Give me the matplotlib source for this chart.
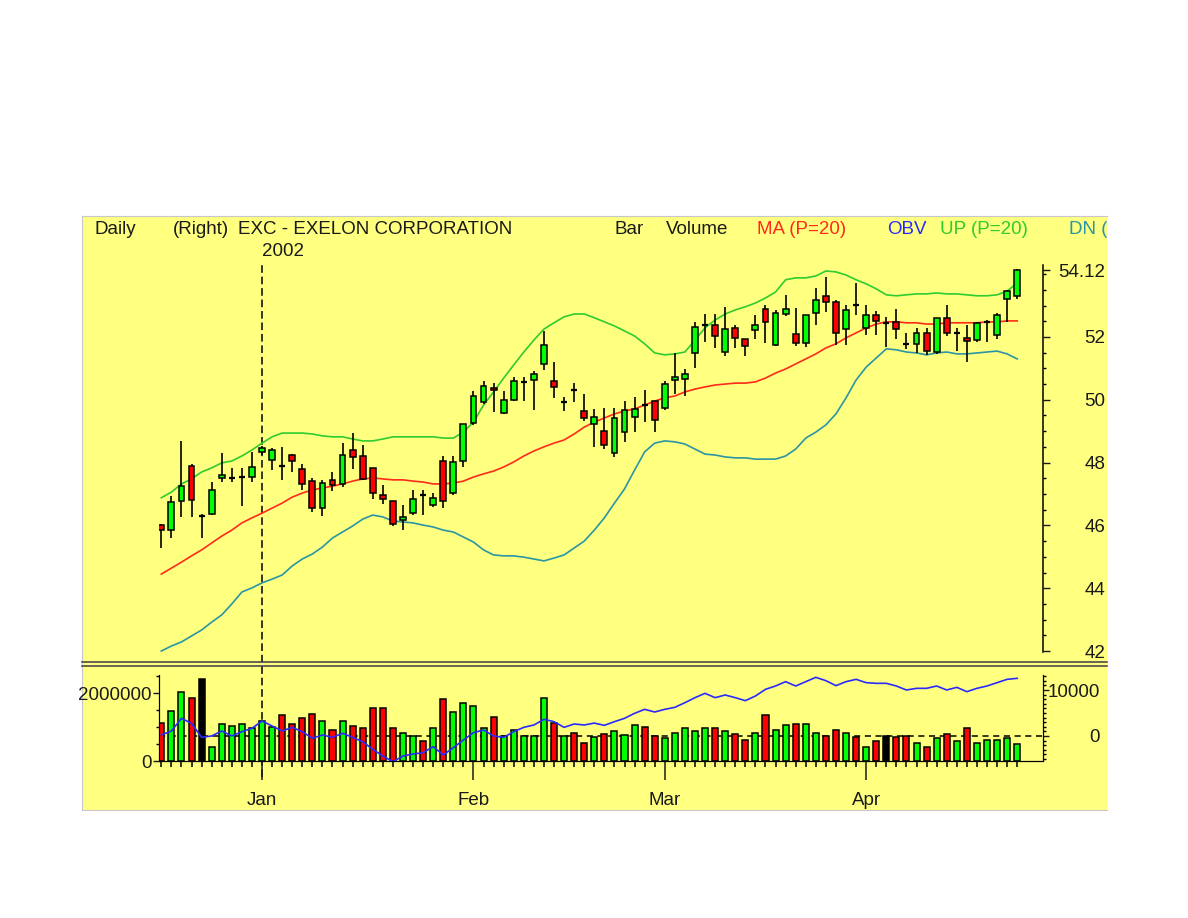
import matplotlib
matplotlib.use("Agg")
import matplotlib.pyplot as plt
from matplotlib.lines import Line2D
from matplotlib.ticker import FixedLocator, MultipleLocator
import numpy as np

plt.rcParams['font.family'] = ['Liberation Sans', 'DejaVu Sans']

# ---- data ----
# daily bars, 17 Dec 2001 .. 22 Apr 2002
open_ = [46.01, 45.84, 46.78, 47.88, 46.31, 46.37, 47.50, 47.50, 47.54, 47.54,
         48.35, 48.09, 47.88, 48.24, 47.80, 47.41, 46.56, 47.45, 47.32, 48.40,
         48.21, 47.83, 46.98, 46.79, 46.17, 46.41, 46.98, 46.64, 48.06, 47.02,
         48.06, 49.27, 49.93, 50.39, 49.59, 49.99, 50.58, 50.63, 51.14, 50.59,
         49.93, 50.31, 49.65, 49.23, 48.99, 48.29, 48.97, 49.44, 49.82, 49.97,
         49.73, 50.63, 50.67, 51.48, 52.38, 52.38, 51.52, 52.27, 51.95, 52.22,
         52.89, 51.75, 52.73, 52.10, 51.82, 52.75, 53.31, 53.11, 52.25, 53.01,
         52.29, 52.71, 52.45, 52.46, 51.79, 51.79, 52.11, 51.52, 52.61, 52.14,
         51.98, 51.89, 52.49, 52.05, 53.22, 53.31]
high = [46.03, 46.95, 48.69, 47.95, 46.35, 47.37, 48.31, 47.84, 47.84, 48.35,
        48.53, 48.47, 48.50, 48.26, 47.95, 47.50, 47.43, 47.71, 48.63, 48.95,
        48.57, 47.83, 47.28, 46.79, 46.66, 47.13, 47.13, 47.04, 48.21, 48.21,
        49.23, 50.29, 50.61, 50.52, 50.27, 50.74, 50.74, 50.93, 52.18, 51.20,
        50.10, 50.52, 50.18, 49.72, 49.75, 49.75, 49.95, 50.08, 50.31, 49.97,
        50.59, 51.48, 50.97, 52.48, 52.73, 52.73, 52.95, 52.38, 51.95, 52.70,
        53.02, 52.86, 53.34, 52.91, 52.70, 53.55, 53.90, 53.17, 53.01, 53.73,
        53.03, 52.82, 52.62, 52.90, 52.11, 52.27, 52.27, 52.61, 53.01, 52.27,
        52.37, 52.48, 52.53, 52.77, 53.49, 54.15]
low = [45.27, 45.59, 46.27, 46.27, 45.59, 46.33, 47.39, 47.39, 46.63, 47.37,
       48.24, 47.75, 47.43, 47.71, 47.12, 46.44, 46.31, 47.10, 47.21, 47.81,
       47.43, 46.85, 46.68, 45.98, 45.85, 46.32, 46.32, 46.60, 46.55, 46.96,
       47.85, 49.21, 49.87, 49.61, 49.55, 49.95, 49.95, 49.68, 50.94, 50.06,
       49.63, 49.93, 49.32, 48.51, 48.44, 48.19, 48.66, 48.97, 49.29, 48.97,
       49.68, 50.18, 50.12, 51.01, 51.85, 51.64, 51.38, 51.64, 51.38, 51.95,
       51.80, 51.71, 52.66, 51.71, 51.67, 52.38, 52.78, 51.74, 51.74, 52.69,
       52.07, 52.07, 51.69, 51.92, 51.61, 51.50, 51.44, 51.47, 52.03, 51.54,
       51.20, 51.84, 51.84, 51.95, 52.46, 53.22]
close = [45.86, 46.75, 47.26, 46.82, 46.31, 47.12, 47.61, 47.50, 47.54, 47.86,
         48.47, 48.39, 47.88, 48.05, 47.31, 46.56, 47.35, 47.29, 48.25, 48.19,
         47.49, 47.02, 46.83, 46.04, 46.28, 46.83, 46.98, 46.87, 46.79, 48.02,
         49.23, 50.12, 50.44, 50.31, 49.99, 50.59, 50.58, 50.82, 51.73, 50.40,
         49.93, 50.31, 49.42, 49.46, 48.57, 49.42, 49.68, 49.70, 49.82, 49.34,
         50.50, 50.74, 50.82, 52.33, 52.38, 52.04, 52.25, 51.98, 51.71, 52.38,
         52.47, 52.75, 52.89, 51.82, 52.70, 53.16, 53.11, 52.14, 52.85, 53.01,
         52.71, 52.52, 52.45, 52.24, 51.79, 52.11, 51.54, 52.61, 52.11, 52.14,
         51.88, 52.43, 52.49, 52.71, 53.46, 54.12]

ma20 = [44.45, 44.64, 44.83, 45.03, 45.22, 45.44, 45.66, 45.85, 46.08, 46.24,
        46.39, 46.55, 46.71, 46.90, 47.03, 47.13, 47.19, 47.25, 47.32, 47.41,
        47.48, 47.51, 47.48, 47.45, 47.45, 47.41, 47.38, 47.32, 47.32, 47.35,
        47.41, 47.54, 47.64, 47.73, 47.86, 48.02, 48.21, 48.37, 48.50, 48.62,
        48.72, 48.91, 49.13, 49.29, 49.42, 49.55, 49.64, 49.71, 49.83, 49.96,
        50.06, 50.12, 50.25, 50.34, 50.41, 50.47, 50.50, 50.53, 50.53, 50.57,
        50.69, 50.85, 50.98, 51.14, 51.30, 51.46, 51.65, 51.78, 51.97, 52.13,
        52.29, 52.41, 52.48, 52.48, 52.45, 52.45, 52.41, 52.41, 52.45, 52.45,
        52.45, 52.45, 52.48, 52.48, 52.51, 52.51]
band_up = [46.88, 47.06, 47.32, 47.48, 47.70, 47.83, 47.99, 48.05, 48.21, 48.40,
           48.62, 48.82, 48.94, 48.94, 48.94, 48.91, 48.85, 48.82, 48.82, 48.75,
           48.69, 48.69, 48.75, 48.82, 48.82, 48.82, 48.82, 48.82, 48.78, 48.78,
           48.97, 49.29, 49.83, 50.25, 50.69, 51.11, 51.52, 51.90, 52.25, 52.45,
           52.64, 52.73, 52.73, 52.61, 52.48, 52.35, 52.19, 52.03, 51.78, 51.49,
           51.43, 51.46, 51.52, 51.90, 52.29, 52.54, 52.73, 52.86, 52.96, 53.08,
           53.24, 53.43, 53.82, 53.88, 53.88, 53.94, 54.10, 54.07, 53.97, 53.82,
           53.69, 53.53, 53.34, 53.31, 53.34, 53.37, 53.37, 53.40, 53.37, 53.37,
           53.34, 53.31, 53.31, 53.34, 53.46, 53.72]
band_dn = [42.00, 42.16, 42.29, 42.48, 42.67, 42.92, 43.15, 43.50, 43.88, 44.01,
           44.17, 44.29, 44.42, 44.71, 44.93, 45.09, 45.31, 45.60, 45.79, 45.98,
           46.20, 46.33, 46.27, 46.14, 46.11, 46.08, 46.01, 45.95, 45.85, 45.79,
           45.63, 45.47, 45.22, 45.06, 45.03, 45.03, 44.99, 44.93, 44.87, 44.96,
           45.06, 45.28, 45.50, 45.85, 46.24, 46.71, 47.16, 47.76, 48.34, 48.62,
           48.69, 48.66, 48.59, 48.43, 48.27, 48.24, 48.18, 48.15, 48.15, 48.11,
           48.11, 48.11, 48.21, 48.43, 48.78, 48.97, 49.20, 49.55, 50.06, 50.63,
           51.04, 51.33, 51.62, 51.59, 51.52, 51.49, 51.43, 51.49, 51.52, 51.46,
           51.46, 51.49, 51.52, 51.55, 51.46, 51.30]

volume = [1.13, 1.48, 2.04, 1.87, 2.43, 0.42, 1.08, 1.03, 1.08, 0.96,
          1.17, 1.00, 1.35, 1.08, 1.26, 1.40, 1.17, 0.91, 1.17, 1.03,
          0.96, 1.57, 1.57, 0.96, 0.82, 0.73, 0.60, 0.96, 1.82, 1.44,
          1.70, 1.61, 0.96, 1.30, 0.73, 0.91, 0.73, 0.73, 1.87, 1.13,
          0.73, 0.82, 0.53, 0.71, 0.80, 0.89, 0.76, 1.05, 1.01, 0.75,
          0.67, 0.84, 0.97, 0.89, 0.97, 0.97, 0.89, 0.80, 0.62, 0.84,
          1.37, 0.93, 1.05, 1.10, 1.10, 0.84, 0.75, 0.93, 0.84, 0.71,
          0.40, 0.58, 0.75, 0.71, 0.75, 0.53, 0.40, 0.67, 0.80, 0.58,
          0.97, 0.53, 0.62, 0.62, 0.67, 0.49]  # millions
vol_side = "rggrkggggg" "ggrrrrgrgr" "rrrrggrgrg" "gggrgggggr" \
           "grrgrgggrr" "gggggrgrrg" "rggrggrrgr" "grkrrgrgrg" "rggggg"
obv = [217, 1087, 3840, 2753, -290, 0, 1087, 0, 942, 1667,
       3261, 2174, 1087, 1884, 942, -507, 217, -290, 580, -290,
       -1232, -2898, -4348, -5580, -4348, -3913, -3623, -2319, -4130, -2536,
       -870, 725, 1304, 0, -290, 942, 1884, 2391, 3623, 3116,
       1884, 2609, 2400, 2800, 2319, 3116, 3841, 4928, 5797, 5217,
       5797, 6232, 7246, 8333, 9275, 8333, 8913, 8333, 7681, 8696,
       10145, 10870, 11812, 10870, 11812, 12754, 12029, 10942, 11812, 12319,
       11594, 11449, 11449, 10870, 10000, 10362, 10362, 10870, 10000, 10580,
       9638, 10362, 10870, 11594, 12319, 12536]

month_names = ['Jan', 'Feb', 'Mar', 'Apr']
month_start = [10, 31, 50, 70]   # bar index of first trading day
price_ticks = [42, 44, 46, 48, 50, 52, 54.12]

YELLOW = '#ffff80'
C_UP = '#00ff00'
C_DN = '#ff0000'
C_MA = '#ff2a1a'
C_UPB = '#2ecc2e'
C_DNB = '#2a95a5'
C_OBV = '#2a2aff'
FS = 13.5

W, H = 1188, 918


def box(x0, y0, x1, y1):
    # pixel rectangle -> figure fraction
    return [x0 / W, 1 - y1 / H, (x1 - x0) / W, (y1 - y0) / H]


fig = plt.figure(figsize=(W / 100, H / 100), dpi=100)
fig.patch.set_facecolor('white')

# yellow panel
bg = fig.add_axes(box(82, 216, 1107, 810))
bg.set_facecolor(YELLOW)
bg.set_xticks([])
bg.set_yticks([])
bg.set_xlim(0, 1)
bg.set_ylim(0, 1)
for s in bg.spines.values():
    s.set_color('#c8c8c8')
bg.spines['right'].set_visible(False)


def hdr(px, py, s, c='#1a1a1a'):
    bg.text((px - 82) / 1025, 1 - (py - 216) / 594, s, color=c, fontsize=FS,
            ha='left', va='center', clip_on=True)


hdr(95, 229.5, 'Daily')
hdr(173, 229.5, '(Right)')
hdr(238, 229.5, 'EXC - EXELON CORPORATION')
hdr(262, 252, '2002')
hdr(615, 229.5, 'Bar')
hdr(666, 229.5, 'Volume')
hdr(757, 229.5, 'MA (P=20)', C_MA)
hdr(887, 229.5, 'OBV', C_OBV)
hdr(940, 229.5, 'UP (P=20)', C_UPB)
hdr(1069, 229.5, 'DN (P=20)', C_DNB)

# panel separator
for yy in (662.3, 665.5):
    fig.add_artist(Line2D([82 / W, 1107 / W], [1 - yy / H] * 2, color='#4a4a4a',
                          lw=1.2, transform=fig.transFigure))

o = np.array(open_)
h = np.array(high)
l = np.array(low)
c = np.array(close)
x = np.arange(len(c))
XL = (-0.2, 87.53)

# ---- price panel ----
ax = fig.add_axes(box(159.3, 265, 1042.7, 652), facecolor='none')
ax.set_xlim(*XL)
ax.set_ylim(41.97, 54.29)
ax.plot(x, band_up, color=C_UPB, lw=1.2, zorder=1)
ax.plot(x, ma20, color=C_MA, lw=1.2, zorder=1)
ax.plot(x, band_dn, color=C_DNB, lw=1.2, zorder=1)
ax.vlines(x, l, h, color='black', lw=1.2, zorder=2)
up = c > o
dn = c < o
fl = c == o
ax.bar(x[up], (c - o)[up], bottom=o[up], width=0.58, color=C_UP,
       edgecolor='black', lw=1.1, zorder=3)
ax.bar(x[dn], (o - c)[dn], bottom=c[dn], width=0.58, color=C_DN,
       edgecolor='black', lw=1.1, zorder=3)
ax.hlines(c[fl], x[fl] - 0.3, x[fl] + 0.3, color='black', lw=1.6, zorder=3)

for s in ('top', 'left', 'bottom'):
    ax.spines[s].set_visible(False)
ax.spines['right'].set_linewidth(1.1)
ax.set_xticks([])
ax.yaxis.tick_right()
ax.yaxis.set_major_locator(FixedLocator(price_ticks))
ax.set_yticklabels(['%g' % v for v in price_ticks])
ax.yaxis.set_minor_locator(MultipleLocator(0.5))
ax.tick_params(axis='y', which='major', length=5, width=1, pad=40, labelsize=FS,
               colors='#1a1a1a')
ax.tick_params(axis='y', which='minor', length=2.5, width=1)
for t in ax.get_yticklabels():
    t.set_horizontalalignment('right')

# Jan / year divider
ax.axvline(month_start[0], ymin=(652 - 777) / 387, ymax=(652 - 262) / 387,
           color='black', lw=1.1, dashes=(5, 2.5), clip_on=False, zorder=0)

# ---- volume panel ----
av = fig.add_axes(box(159.3, 675, 1042.7, 761), facecolor='none')
av.set_xlim(*XL)
av.set_ylim(0, 2.54e6)
cmap = {'g': C_UP, 'r': C_DN, 'k': 'black'}
av.bar(x, np.array(volume) * 1e6, width=0.6, color=[cmap[k] for k in vol_side],
       edgecolor='black', lw=1.1, zorder=3)
av.spines['top'].set_visible(False)
av.yaxis.set_major_locator(FixedLocator([0, 2000000]))
av.yaxis.set_minor_locator(MultipleLocator(500000))
av.set_yticklabels(['0', '2000000'])
av.tick_params(axis='y', which='major', length=4, width=1, pad=1.5, labelsize=FS,
               colors='#1a1a1a')
av.tick_params(axis='y', which='minor', length=2.5, width=1)
av.xaxis.set_major_locator(FixedLocator(month_start))
av.xaxis.set_minor_locator(FixedLocator(x))
av.set_xticklabels(month_names)
av.tick_params(axis='x', which='major', length=14, width=1.1, pad=8, labelsize=FS,
               colors='#1a1a1a')
av.tick_params(axis='x', which='minor', length=4.5, width=1.1)

ao = av.twinx()
ao.set_xlim(*XL)
ao.set_ylim(-5435, 13261)
ao.plot(x, obv, color=C_OBV, lw=1.2, zorder=4)
ao.spines['top'].set_visible(False)
ao.yaxis.set_major_locator(FixedLocator([0, 10000]))
ao.yaxis.set_minor_locator(MultipleLocator(1000))
ao.set_yticklabels(['0', '10000'])
ao.tick_params(axis='y', which='major', length=4, width=1, pad=37, labelsize=FS,
               colors='#1a1a1a')
ao.tick_params(axis='y', which='minor', length=2, width=1)
for t in ao.get_yticklabels():
    t.set_horizontalalignment('right')

# OBV zero line, drawn behind the volume bars
fig.canvas.draw()
y0 = av.transData.inverted().transform(ao.transData.transform((0, 0)))[1]
av.axhline(y0, color='black', lw=1.1, dashes=(4, 3), zorder=1)

fig.savefig('out.png', dpi=100, facecolor='white')
